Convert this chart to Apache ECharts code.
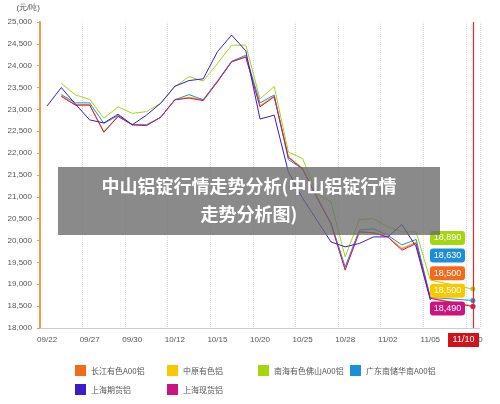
<!DOCTYPE html>
<html><head><meta charset="utf-8">
<script src="https://cdn.jsdelivr.net/npm/echarts@6/dist/echarts.min.js"></script>
<style>html,body{margin:0;padding:0;background:#fff}#c{width:500px;height:404px}</style>
</head><body><div id="c"></div>
<script>
const categories=['09/22','09/25','09/26','09/27','09/28','09/29','09/30','10/10','10/11','10/12','10/13','10/14','10/15','10/16','10/17','10/20','10/23','10/24','10/25','10/26','10/27','10/28','10/31','11/01','11/02','11/03','11/04','11/05','11/07','11/08','11/10'];
const seriesNames=['长江有色A00铝','中原有色铝','南海有色佛山A00铝','广东南储华南A00铝','上海期货铝','上海现货铝'];
const colors=['#f26a1b','#f7c900','#a5d610','#1e8fd6','#3b1cc8','#cc1480'];
const changjiang=[null,23300,23100,23100,22480,22840,22650,22630,22820,23220,23270,23220,23630,24090,24200,23070,23300,21910,21645,21000,20390,19350,20199,20176,20084,19810,19960,18680,null,null,18500];
const zhongyuan=[null,23320,23110,23110,22500,22850,22650,22640,22820,23230,23280,23230,23640,24100,24210,23090,23310,21930,21660,21010,20400,19380,20210,20180,20090,19830,19970,18700,null,null,18500];
const nanhai=[null,23600,23330,23230,22800,23060,22910,22950,23140,23520,23750,23650,24050,24470,24470,23240,23525,22025,21875,21075,20885,19628,20482,20500,20313,20199,20199,19096,null,null,18890];
const guangdong=[null,23340,23150,23150,22680,22860,22650,22650,22820,23220,23340,23220,23650,24100,24240,23150,23330,21850,21640,21000,20400,19400,20240,20270,20120,19900,20025,18700,null,null,18630];
const shqh=[23080,23500,23120,22760,22690,22890,22650,22870,23140,23530,23660,23700,24320,24700,24340,22780,22870,21570,20970,20470,19970,19856,19934,20084,20084,20368,19856,18640,null,null,null];
const shxh=[null,23300,23100,23100,22480,22840,22650,22630,22820,23220,23260,23200,23630,24090,24200,23060,23290,21900,21640,20990,20380,19324,20199,20176,20084,19780,19932,18680,null,null,18490];
const allData=[changjiang,zhongyuan,nanhai,guangdong,shqh,shxh];
const endLabels=['18,890','18,630','18,500','18,500','18,490'];
const endColors=['#a5d610','#1e8fd6','#f26a1b','#f7c900','#cc1480'];
const chart=echarts.init(document.getElementById('c'));
const legendPos=[[70,360],[162,360],[253,360],[345,360],[70,379],[162,379]];
const series=allData.map((d,i)=>({
  name:seriesNames[i],type:'line',data:d,connectNulls:true,
  symbol:'circle',symbolSize:(v,p)=>p.dataIndex===30?5:0,showSymbol:true,
  lineStyle:{width:1,color:colors[i]},itemStyle:{color:colors[i]},
  emphasis:{disabled:true},z:i===4?3:2
}));
series.push({type:'line',name:'marker',data:[],color:'#e8282b',itemStyle:{color:'#e8282b'},lineStyle:{color:'#e8282b'},
  markLine:{silent:true,symbol:'none',label:{show:false},lineStyle:{color:'#e8282b',type:'solid',width:1.2},
  data:[{xAxis:'11/10'}]}});
const graphics=[];
endLabels.forEach((t,i)=>{
  graphics.push({type:'rect',shape:{x:430,y:231+i*17.6,width:35,height:14,r:3},style:{fill:endColors[i]},z:10});
  graphics.push({type:'text',style:{x:447.5,y:238+i*17.6,text:t,fill:'#fff',font:'9px sans-serif',align:'center',verticalAlign:'middle'},z:11});
});
graphics.push({type:'rect',shape:{x:448,y:333,width:31,height:14},style:{fill:'#d0121b'},z:10});
graphics.push({type:'text',style:{x:463.5,y:340,text:'11/10',fill:'#fff',font:'9px sans-serif',align:'center',verticalAlign:'middle'},z:11});
graphics.push({type:'rect',shape:{x:58,y:167,width:382,height:68},style:{fill:'rgba(105,105,105,0.78)'},z:20});
graphics.push({type:'text',style:{x:249,y:186,text:'中山铝锭行情走势分析(中山铝锭行情',fill:'#fff',font:'bold 18px "Noto Sans CJK SC"',align:'center',verticalAlign:'middle'},z:21});
graphics.push({type:'text',style:{x:249,y:214,text:'走势分析图)',fill:'#fff',font:'bold 18px "Noto Sans CJK SC"',align:'center',verticalAlign:'middle'},z:21});
chart.setOption({
  animation:false,
  grid:{left:40,right:20,top:22,bottom:76},
  legend:seriesNames.map((n,i)=>({data:[n],left:legendPos[i][0],top:legendPos[i][1],itemWidth:11,itemHeight:11,itemGap:4,icon:'rect',selectedMode:false,textStyle:{fontSize:8,color:'#555',fontFamily:'Noto Sans CJK SC'}})),
  xAxis:{type:'category',data:categories,boundaryGap:true,
    axisLine:{lineStyle:{color:'#ccc'}},axisTick:{show:false},
    axisLabel:{interval:2,fontSize:8,color:'#555',margin:8},
    splitLine:{show:true,interval:2,lineStyle:{type:'dotted',color:'#ddd'}}},
  yAxis:{type:'value',min:18000,max:25000,interval:500,name:'(元/吨)',nameLocation:'end',nameGap:10,
    nameTextStyle:{fontSize:8,color:'#555',align:'right'},
    axisLine:{show:true,lineStyle:{color:'#f39a4c',width:2}},axisTick:{show:true,length:3,lineStyle:{color:'#f39a4c'}},
    axisLabel:{fontSize:8,color:'#555',formatter:v=>v.toLocaleString('en-US')},splitLine:{show:false}},
  series:series,
  graphic:graphics
});
</script></body></html>
